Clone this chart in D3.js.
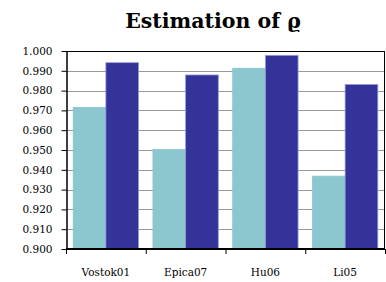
<!DOCTYPE html>
<html>
<head>
<meta charset="utf-8">
<script src="https://cdn.jsdelivr.net/npm/d3@7"></script>
<style>
  body { margin: 0; background: #fff; }
  svg text { font-family: "DejaVu Serif", "Liberation Serif", serif; }
</style>
</head>
<body>
<svg id="chart" width="386" height="282"></svg>
<script>
// data
var categories = ["Vostok01", "Epica07", "Hu06", "Li05"];
var seriesA = [0.9715, 0.9503, 0.9913, 0.9368];   // light bars
var seriesB = [0.9941, 0.9879, 0.9978, 0.9831];   // dark bars
var yTicks = [0.900, 0.910, 0.920, 0.930, 0.940, 0.950, 0.960, 0.970, 0.980, 0.990, 1.000];

var svg = d3.select("#chart"),
    margin = {top: 51, right: 1, bottom: 33, left: 66},
    width = +svg.attr("width") - margin.left - margin.right,
    height = +svg.attr("height") - margin.top - margin.bottom;

var colors = ["#8cc6ce", "#333399"];

svg.append("text")
    .attr("x", 213)
    .attr("y", 28)
    .attr("text-anchor", "middle")
    .attr("font-weight", "bold")
    .attr("font-size", "20.5px")
    .text("Estimation of \u03f1");

var g = svg.append("g").attr("transform", "translate(" + margin.left + "," + margin.top + ")");

var x = d3.scaleBand().domain(categories).range([0, width]).paddingInner(0).paddingOuter(0);
var x1 = d3.scaleBand().domain([0, 1]).range([0, x.bandwidth()]).paddingOuter(0.22);
var y = d3.scaleLinear().domain([0.9, 1.0]).range([height, 0]);

// grid
g.selectAll(".grid").data(yTicks.slice(1)).enter().append("line")
    .attr("x1", 0).attr("x2", width)
    .attr("y1", function(d) { return Math.round(y(d)) + 0.5; })
    .attr("y2", function(d) { return Math.round(y(d)) + 0.5; })
    .attr("stroke", "#9a9a9a");

// bars
var data = categories.map(function(c, i) { return {cat: c, vals: [seriesA[i], seriesB[i]]}; });
var grp = g.selectAll(".cat").data(data).enter().append("g")
    .attr("transform", function(d) { return "translate(" + x(d.cat) + ",0)"; });
grp.selectAll("rect").data(function(d) { return d.vals; }).enter().append("rect")
    .attr("x", function(d, i) { return x1(i); })
    .attr("width", x1.bandwidth())
    .attr("y", function(d) { return y(d); })
    .attr("height", function(d) { return height - y(d); })
    .attr("fill", function(d, i) { return colors[i]; })
    .attr("stroke", function(d, i) { return i ? "#9a9ad6" : "#8cc6ce"; })
    .attr("stroke-width", 0.8);

// frame top and right
g.append("line").attr("x1", width - 0.5).attr("x2", width - 0.5).attr("y1", 0).attr("y2", height)
    .attr("stroke", "#000");
g.append("line").attr("x1", 0).attr("x2", width).attr("y1", 0.5).attr("y2", 0.5)
    .attr("stroke", "#000");

// y axis
var yAxis = g.append("g").attr("transform", "translate(0.5,0)")
    .call(d3.axisLeft(y).tickValues(yTicks).tickFormat(d3.format(".3f")).tickSize(5).tickSizeOuter(0));
yAxis.attr("font-family", null);
yAxis.selectAll("text").attr("font-size", "10.5px").attr("fill", "#000").attr("x", -14);
yAxis.select(".domain").attr("stroke-width", 1.5);

// x axis, ticks at category boundaries
var xAxis = g.append("g").attr("transform", "translate(0," + height + ")");
xAxis.append("line").attr("x1", 0).attr("x2", width).attr("stroke", "#000").attr("stroke-width", 2);
xAxis.selectAll(".tk").data(d3.range(categories.length + 1)).enter().append("line")
    .attr("x1", function(i) { return i * x.bandwidth() + 0.5; })
    .attr("x2", function(i) { return i * x.bandwidth() + 0.5; })
    .attr("y1", 0).attr("y2", 5).attr("stroke", "#000");
xAxis.selectAll(".lbl").data(categories).enter().append("text")
    .attr("x", function(d) { return x(d) + x.bandwidth() / 2; })
    .attr("y", 27)
    .attr("text-anchor", "middle")
    .attr("font-size", "10.5px")
    .text(function(d) { return d; });
</script>
</body>
</html>
